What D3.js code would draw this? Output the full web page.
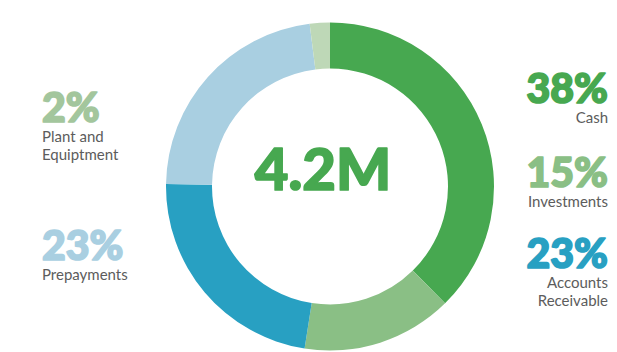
<!DOCTYPE html>
<html>
<head>
<meta charset="utf-8">
<script src="https://cdn.jsdelivr.net/npm/d3@7"></script>
<style>
  body { margin: 0; background: #fff; }
  svg { display: block; }
  .pct { font-family: Lato, Inter, sans-serif; font-weight: 900; stroke-width: 1.7; stroke-linejoin: round; }
  .name { font-family: Lato, Inter, sans-serif; font-weight: 400; fill: #5c5c5c; }
</style>
</head>
<body>
<div id="viz"></div>
<script>
const width = 617;
const height = 352;

// data
const categories = ['Cash', 'Investments', 'Accounts Receivable', 'Prepayments', 'Plant and Equipment'];
const values = [38, 15, 23, 23, 2];
const total = '4.2M';
const sliceColors = ['#47a850', '#8abf85', '#28a0c2', '#a9cfe1', '#bed8b7'];
const labelColors = ['#47a850', '#8abf85', '#28a0c2', '#a9cfe1', '#a3c69d'];
const labelLines = [['Cash'], ['Investments'], ['Accounts', 'Receivable'], ['Prepayments'], ['Plant and', 'Equiptment']];

// layout for the side labels (baseline of the big percent)
const labelPos = [
	{x: 608, y: 103, anchor: 'end'},
	{x: 608, y: 187, anchor: 'end'},
	{x: 608, y: 268, anchor: 'end'},
	{x: 42, y: 260, anchor: 'start'},
	{x: 42, y: 122, anchor: 'start'}
];

const cx = 330, cy = 186.5, outerR = 164, innerR = 118;

const svg = d3.select('#viz')
	.append('svg')
	.attr('viewBox', [0, 0, width, height])
	.attr('width', width)
	.attr('height', height);

const pie = d3.pie().sort(null).value(d => d),
	arcs = pie(values),
	arc = d3.arc().innerRadius(innerR).outerRadius(outerR);

svg.append('g')
	.attr('transform', `translate(${cx},${cy})`)
	.selectAll('path')
	.data(arcs)
	.join('path')
	.attr('d', arc)
	.attr('fill', (d, i) => sliceColors[i]);

svg.append('text')
	.attr('class', 'pct')
	.attr('x', cx - 7)
	.attr('y', 190)
	.attr('text-anchor', 'middle')
	.attr('font-size', 58)
	.attr('fill', sliceColors[0])
	.attr('stroke', sliceColors[0])
	.attr('stroke-width', 2.8)
	.text(total);

const fmt = d => d + '%';

const labels = svg.selectAll('.label')
	.data(categories)
	.join('g')
	.attr('class', 'label');

labels.append('text')
	.attr('class', 'pct')
	.attr('x', (d, i) => labelPos[i].x)
	.attr('y', (d, i) => labelPos[i].y)
	.attr('text-anchor', (d, i) => labelPos[i].anchor)
	.attr('font-size', 41)
	.attr('fill', (d, i) => labelColors[i])
	.attr('stroke', (d, i) => labelColors[i])
	.text((d, i) => fmt(values[i]));

labels.each(function(d, i) {
	d3.select(this).selectAll('.name')
		.data(labelLines[i])
		.join('text')
		.attr('class', 'name')
		.attr('x', labelPos[i].x)
		.attr('y', (t, j) => labelPos[i].y + 20 + j * 18)
		.attr('text-anchor', labelPos[i].anchor)
		.attr('font-size', 15)
		.text(t => t);
});
</script>
</body>
</html>
